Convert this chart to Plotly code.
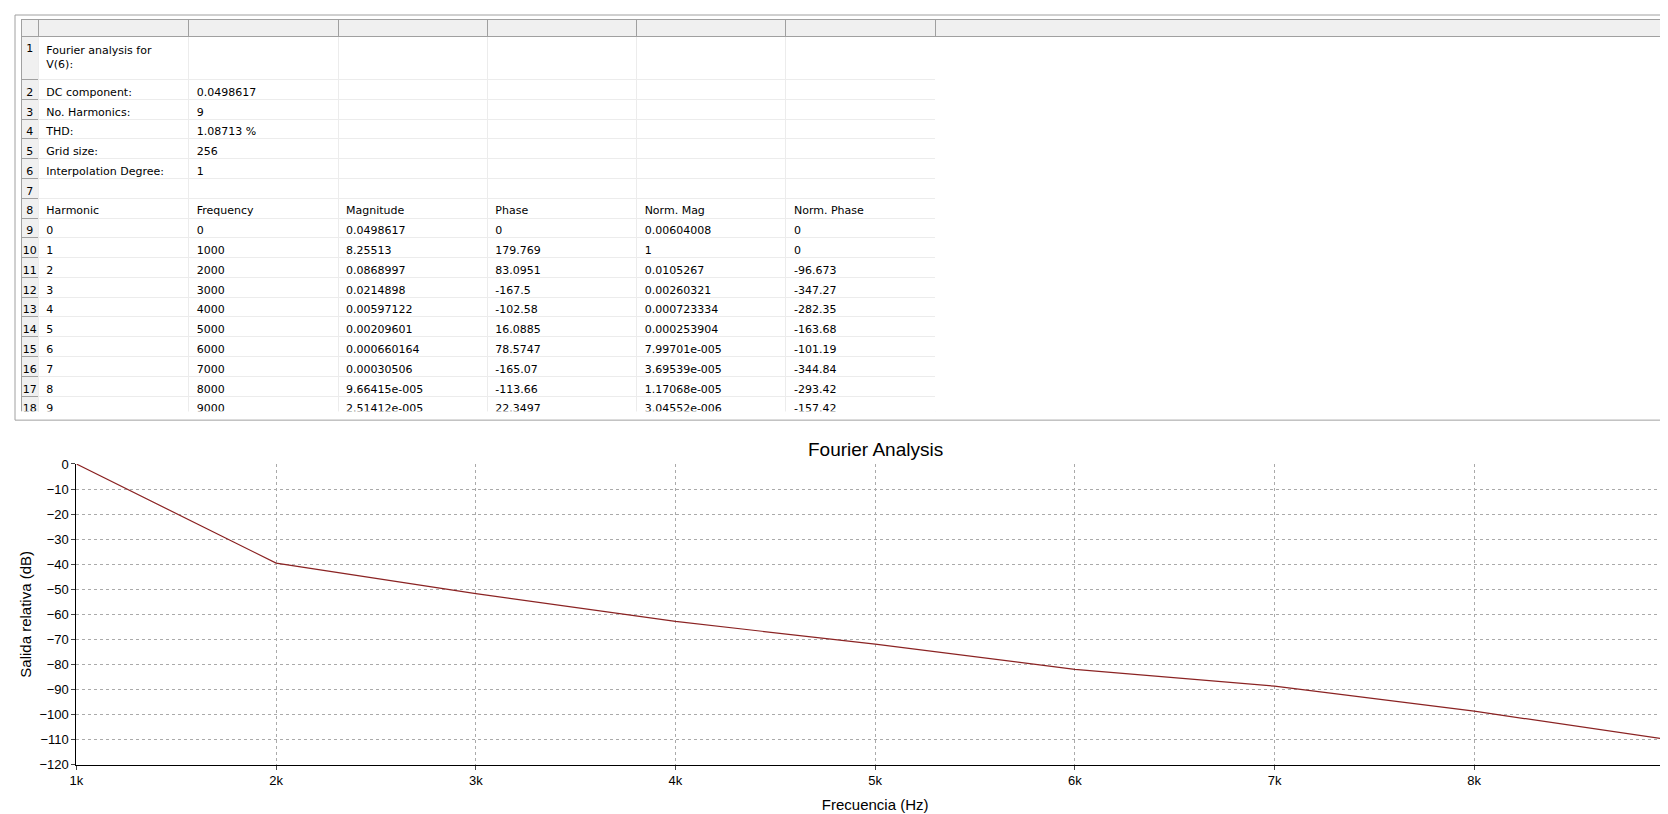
import plotly.graph_objects as go

W, H = 1668, 814
S = 1668 / 1568  # reference pixel scale

def px(v):
    return v * S

# ---- data ----
harmonic = [0, 1, 2, 3, 4, 5, 6, 7, 8, 9]
frequency = [0, 1000, 2000, 3000, 4000, 5000, 6000, 7000, 8000, 9000]
magnitude = ["0.0498617", "8.25513", "0.0868997", "0.0214898", "0.00597122", "0.00209601",
             "0.000660164", "0.00030506", "9.66415e-005", "2.51412e-005"]
phase = ["0", "179.769", "83.0951", "-167.5", "-102.58", "16.0885", "78.5747", "-165.07", "-113.66", "22.3497"]
norm_mag = ["0.00604008", "1", "0.0105267", "0.00260321", "0.000723334", "0.000253904",
            "7.99701e-005", "3.69539e-005", "1.17068e-005", "3.04552e-006"]
norm_phase = ["0", "0", "-96.673", "-347.27", "-282.35", "-163.68", "-101.19", "-344.84", "-293.42", "-157.42"]
info_labels = ["Fourier analysis for V(6):", "DC component:", "No. Harmonics:", "THD:", "Grid size:",
               "Interpolation Degree:", ""]
info_values = ["", "0.0498617", "9", "1.08713 %", "256", "1", ""]

# chart series (relative output in dB, from Norm. Mag)
freq_plot = [1000, 2000, 3000, 4000, 5000, 6000, 7000, 8000, 9000]
db_plot = [0, -39.55, -51.69, -62.81, -71.91, -81.94, -88.65, -98.63, -110.33]
xtick_vals = [1000, 2000, 3000, 4000, 5000, 6000, 7000, 8000, 9000]
xtick_text = ["1k", "2k", "3k", "4k", "5k", "6k", "7k", "8k", "9k"]
ytick_vals = [0, -10, -20, -30, -40, -50, -60, -70, -80, -90, -100, -110, -120]

# ---- table columns ----
rownums = [str(i) for i in range(1, 20)]
colA = info_labels + ["Harmonic"] + [str(h) for h in harmonic] + [""]
colB = info_values + ["Frequency"] + [str(f) for f in frequency] + [""]
colC = [""] * 7 + ["Magnitude"] + magnitude + [""]
colD = [""] * 7 + ["Phase"] + phase + [""]
colE = [""] * 7 + ["Norm. Mag"] + norm_mag + [""]
colF = [""] * 7 + ["Norm. Phase"] + norm_phase + [""]
colG = [""] * 19

fig = go.Figure()
fig.add_trace(go.Table(
    domain=dict(x=[px(6) / W, px(1565) / W], y=[1 - px(380) / H, 1 - px(4) / H]),
    columnwidth=[16, 142, 141, 141, 141, 141, 141, 696],
    header=dict(values=[""] * 8, height=px(16),
                fill_color="#f0f0f0", line_color="#a0a0a0"),
    cells=dict(values=[rownums, colA, colB, colC, colD, colE, colF, colG],
               height=px(18.6),
               align=["center"] + ["left"] * 7,
               fill_color=[["#f0f0f0"] * 19] + [["white"] * 19] * 7,
               line_color=["#a0a0a0"] + ["#ececec"] * 6 + ["white"],
               font=dict(family="DejaVu Sans", size=11, color="black")),
))

fig.add_trace(go.Scatter(x=freq_plot, y=db_plot, mode="lines",
                         line=dict(color="#8b2323", width=1.2), showlegend=False))

fig.add_shape(type="rect", xref="paper", yref="paper", x0=0, x1=px(1565) / W, y0=1 - px(388) / H, y1=1,
              line=dict(color="#a0a0a0", width=1))

fig.add_annotation(text="Fourier Analysis", xref="paper", yref="paper", x=px((58 + 1566) / 2) / W,
                   y=1 - px(416) / H, showarrow=False,
                   font=dict(family="Liberation Sans", size=19, color="black"))

grid = "#aaaaaa"
fig.update_layout(
    width=W, height=H, margin=dict(l=0, r=0, t=0, b=0),
    paper_bgcolor="white", plot_bgcolor="white",
    font=dict(family="Liberation Sans", size=13, color="black"),
    xaxis=dict(domain=[px(58) / W, px(1566) / W], range=[1000, 9000], tickvals=xtick_vals, ticktext=xtick_text,
               showgrid=True, gridcolor=grid, griddash="3px,3px", showline=True, linecolor="black",
               ticks="outside", ticklen=4, zeroline=False,
               title=dict(text="Frecuencia (Hz)", font=dict(size=15), standoff=12)),
    yaxis=dict(domain=[1 - px(718) / H, 1 - px(430) / H], range=[-120, 0], tickvals=ytick_vals,
               showgrid=True, gridcolor=grid, griddash="3px,3px", showline=True, linecolor="black",
               ticks="outside", ticklen=4, zeroline=False,
               title=dict(text="Salida relativa (dB)", font=dict(size=15), standoff=4)),
)

fig.write_html("out.html")
